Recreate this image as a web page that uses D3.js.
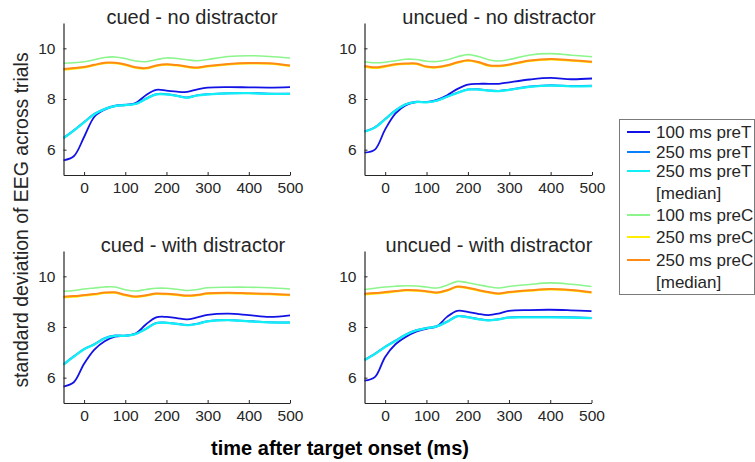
<!DOCTYPE html>
<html>
<head>
<meta charset="utf-8">
<script src="https://cdn.jsdelivr.net/npm/d3@7"></script>
<style>
  body { margin: 0; background: #fff; }
  svg { display: block; font-family: "Liberation Sans", Arial, sans-serif; }
</style>
</head>
<body>
<svg id="chart" width="755" height="462"></svg>
<script>
var times = [-50, -25, 0, 25, 50, 75, 100, 125, 150, 175, 200, 225, 250, 275, 300, 350, 400, 450, 500];

var xTicks = [0, 100, 200, 300, 400, 500],
    yTicks = [6, 8, 10];

var seriesNames = ["100 ms preT", "250 ms preT", "250 ms preT\n[median]", "100 ms preC", "250 ms preC", "250 ms preC\n[median]"];
var seriesColors = ["#1212e6", "#0a80ff", "#12f0f5", "#8cf58c", "#ffee00", "#ff8a14"];
var seriesWidths = [1.8, 2, 2.2, 1.6, 2, 2];

// cued - no distractor
var cuedNo_preT100 = [5.58, 5.74, 6.5, 7.3, 7.58, 7.72, 7.76, 7.84, 8.15, 8.36, 8.33, 8.29, 8.28, 8.38, 8.45, 8.47, 8.46, 8.45, 8.47];
var cuedNo_preT250 = [6.46, 6.76, 7.09, 7.41, 7.61, 7.73, 7.77, 7.81, 8.01, 8.19, 8.19, 8.13, 8.06, 8.15, 8.19, 8.23, 8.24, 8.21, 8.21];
var cuedNo_preT250med = [6.45, 6.75, 7.08, 7.4, 7.6, 7.72, 7.76, 7.8, 8.0, 8.18, 8.18, 8.12, 8.05, 8.14, 8.18, 8.22, 8.23, 8.2, 8.2];
var cuedNo_preC100 = [9.41, 9.43, 9.47, 9.55, 9.64, 9.66, 9.6, 9.5, 9.47, 9.55, 9.62, 9.6, 9.55, 9.51, 9.56, 9.68, 9.71, 9.68, 9.62];
var cuedNo_preC250 = [9.15, 9.19, 9.24, 9.33, 9.41, 9.41, 9.34, 9.23, 9.2, 9.3, 9.35, 9.32, 9.26, 9.22, 9.28, 9.36, 9.4, 9.39, 9.3];
var cuedNo_preC250med = [9.18, 9.22, 9.26, 9.35, 9.43, 9.43, 9.36, 9.25, 9.22, 9.32, 9.37, 9.34, 9.28, 9.24, 9.3, 9.38, 9.42, 9.41, 9.32];

// uncued - no distractor
var uncuedNo_preT100 = [5.88, 6.0, 6.8, 7.43, 7.76, 7.88, 7.88, 7.97, 8.15, 8.4, 8.57, 8.6, 8.6, 8.6, 8.66, 8.77, 8.83, 8.78, 8.81];
var uncuedNo_preT250 = [6.72, 6.88, 7.21, 7.55, 7.8, 7.89, 7.88, 7.94, 8.1, 8.25, 8.38, 8.38, 8.34, 8.32, 8.37, 8.49, 8.54, 8.51, 8.52];
var uncuedNo_preT250med = [6.71, 6.87, 7.2, 7.54, 7.79, 7.88, 7.87, 7.93, 8.09, 8.24, 8.37, 8.37, 8.33, 8.31, 8.36, 8.48, 8.53, 8.5, 8.51];
var uncuedNo_preC100 = [9.47, 9.43, 9.45, 9.51, 9.57, 9.56, 9.49, 9.48, 9.55, 9.67, 9.75, 9.68, 9.55, 9.5, 9.56, 9.74, 9.79, 9.73, 9.67];
var uncuedNo_preC250 = [9.27, 9.22, 9.27, 9.35, 9.38, 9.38, 9.26, 9.24, 9.31, 9.43, 9.51, 9.44, 9.31, 9.29, 9.34, 9.5, 9.56, 9.51, 9.45];
var uncuedNo_preC250med = [9.3, 9.25, 9.3, 9.37, 9.4, 9.4, 9.28, 9.26, 9.33, 9.45, 9.53, 9.46, 9.33, 9.31, 9.36, 9.52, 9.58, 9.53, 9.47];

// cued - with distractor
var cuedWith_preT100 = [5.65, 5.82, 6.55, 7.11, 7.44, 7.62, 7.65, 7.74, 8.1, 8.38, 8.4, 8.35, 8.3, 8.38, 8.48, 8.53, 8.47, 8.4, 8.46];
var cuedWith_preT250 = [6.52, 6.84, 7.13, 7.32, 7.56, 7.66, 7.66, 7.73, 7.93, 8.16, 8.17, 8.13, 8.08, 8.13, 8.23, 8.28, 8.23, 8.19, 8.18];
var cuedWith_preT250med = [6.51, 6.83, 7.12, 7.31, 7.55, 7.65, 7.65, 7.72, 7.92, 8.15, 8.16, 8.12, 8.07, 8.12, 8.22, 8.27, 8.22, 8.18, 8.17];
var cuedWith_preC100 = [9.41, 9.44, 9.5, 9.54, 9.58, 9.58, 9.47, 9.42, 9.48, 9.53, 9.53, 9.49, 9.44, 9.48, 9.55, 9.57, 9.57, 9.55, 9.5];
var cuedWith_preC250 = [9.16, 9.19, 9.24, 9.28, 9.34, 9.35, 9.25, 9.18, 9.23, 9.3, 9.29, 9.26, 9.22, 9.25, 9.31, 9.33, 9.31, 9.29, 9.25];
var cuedWith_preC250med = [9.19, 9.22, 9.26, 9.3, 9.36, 9.37, 9.27, 9.2, 9.25, 9.32, 9.31, 9.28, 9.24, 9.27, 9.33, 9.35, 9.33, 9.31, 9.27];

// uncued - with distractor
var uncuedWith_preT100 = [5.88, 6.02, 6.82, 7.32, 7.61, 7.82, 7.93, 8.02, 8.4, 8.64, 8.6, 8.52, 8.47, 8.53, 8.64, 8.67, 8.68, 8.66, 8.63];
var uncuedWith_preT250 = [6.7, 6.94, 7.22, 7.46, 7.7, 7.87, 7.96, 8.03, 8.21, 8.43, 8.39, 8.32, 8.27, 8.31, 8.38, 8.39, 8.39, 8.38, 8.36];
var uncuedWith_preT250med = [6.69, 6.93, 7.21, 7.45, 7.69, 7.86, 7.95, 8.02, 8.2, 8.42, 8.38, 8.31, 8.26, 8.3, 8.37, 8.38, 8.38, 8.37, 8.35];
var uncuedWith_preC100 = [9.48, 9.53, 9.58, 9.61, 9.63, 9.62, 9.58, 9.54, 9.65, 9.8, 9.75, 9.67, 9.59, 9.54, 9.6, 9.68, 9.74, 9.69, 9.6];
var uncuedWith_preC250 = [9.28, 9.31, 9.35, 9.4, 9.44, 9.43, 9.39, 9.34, 9.43, 9.58, 9.53, 9.44, 9.36, 9.3, 9.36, 9.43, 9.48, 9.44, 9.35];
var uncuedWith_preC250med = [9.31, 9.34, 9.38, 9.42, 9.46, 9.45, 9.41, 9.36, 9.45, 9.6, 9.55, 9.46, 9.38, 9.32, 9.38, 9.45, 9.5, 9.46, 9.37];

var panels = [
  {title: "cued - no distractor", titleX: 192, x0: 63.5, x1: 290, y0: 23, y1: 175,
   series: [cuedNo_preT100, cuedNo_preT250, cuedNo_preT250med, cuedNo_preC100, cuedNo_preC250, cuedNo_preC250med]},
  {title: "uncued - no distractor", titleX: 499, x0: 364.5, x1: 592, y0: 23, y1: 175,
   series: [uncuedNo_preT100, uncuedNo_preT250, uncuedNo_preT250med, uncuedNo_preC100, uncuedNo_preC250, uncuedNo_preC250med]},
  {title: "cued - with distractor", titleX: 193, x0: 63.5, x1: 290, y0: 251, y1: 403,
   series: [cuedWith_preT100, cuedWith_preT250, cuedWith_preT250med, cuedWith_preC100, cuedWith_preC250, cuedWith_preC250med]},
  {title: "uncued - with distractor", titleX: 489, x0: 364.5, x1: 591.5, y0: 251, y1: 403,
   series: [uncuedWith_preT100, uncuedWith_preT250, uncuedWith_preT250med, uncuedWith_preC100, uncuedWith_preC250, uncuedWith_preC250med]}
];

var textColor = "#262626";
var svg = d3.select("#chart");

panels.forEach(function(p) {
  var x = d3.scaleLinear().domain([-50, 500]).range([p.x0, p.x1]);
  var y = d3.scaleLinear().domain([5, 11]).range([p.y1, p.y0]);

  var line = d3.line()
      .x(function(d, i) { return x(times[i]); })
      .y(function(d) { return y(d); })
      .curve(d3.curveCatmullRom.alpha(0.5));

  var g = svg.append("g");

  // preC group first, then preT, legend order inside each group
  [3, 4, 5, 0, 1, 2].forEach(function(k) {
    g.append("path")
        .attr("d", line(p.series[k]))
        .attr("fill", "none")
        .attr("stroke", seriesColors[k])
        .attr("stroke-width", seriesWidths[k]);
  });

  var xAxis = g.append("g")
      .attr("transform", "translate(0," + p.y1 + ")")
      .call(d3.axisBottom(x).tickValues(xTicks).tickFormat(d3.format("d"))
        .tickSize(-3).tickPadding(7).tickSizeOuter(0));
  var yAxis = g.append("g")
      .attr("transform", "translate(" + p.x0 + ",0)")
      .call(d3.axisLeft(y).tickValues(yTicks).tickFormat(d3.format("d"))
        .tickSize(-3).tickPadding(8).tickSizeOuter(0));

  [xAxis, yAxis].forEach(function(a) {
    a.select(".domain").attr("stroke", textColor).attr("stroke-width", 1.2);
    a.selectAll(".tick line").attr("stroke", textColor);
    a.selectAll(".tick text")
        .attr("fill", textColor)
        .style("font-size", "15.5px")
        .style("font-family", "'Liberation Sans', Arial, sans-serif");
  });

  g.append("text")
      .attr("x", p.titleX)
      .attr("y", p.y0 + 1)
      .attr("text-anchor", "middle")
      .attr("fill", textColor)
      .style("font-size", "20px")
      .text(p.title);
});

svg.append("text")
    .attr("transform", "translate(28,220)rotate(-90)")
    .attr("text-anchor", "middle")
    .attr("fill", textColor)
    .style("font-size", "19.4px")
    .text("standard deviation of EEG across trials");

svg.append("text")
    .attr("x", 340)
    .attr("y", 455)
    .attr("text-anchor", "middle")
    .attr("fill", "#000")
    .style("font-size", "20px")
    .style("font-weight", "bold")
    .text("time after target onset (ms)");

// legend
var legend = svg.append("g");
legend.append("rect")
    .attr("x", 619.5).attr("y", 119.5)
    .attr("width", 135).attr("height", 175)
    .attr("fill", "#fff")
    .attr("stroke", "#7a7a7a");

var rowY = [132, 152, 171, 215, 237, 260];
seriesNames.forEach(function(name, k) {
  legend.append("line")
      .attr("x1", 627).attr("x2", 650)
      .attr("y1", rowY[k]).attr("y2", rowY[k])
      .attr("stroke", seriesColors[k])
      .attr("stroke-width", 2);
  var t = legend.append("text")
      .attr("x", 656)
      .attr("y", rowY[k] + 6)
      .attr("fill", textColor)
      .style("font-size", "17px");
  name.split("\n").forEach(function(s, j) {
    t.append("tspan").attr("x", 656).attr("dy", j ? 22 : 0).text(s);
  });
});
</script>
</body>
</html>
